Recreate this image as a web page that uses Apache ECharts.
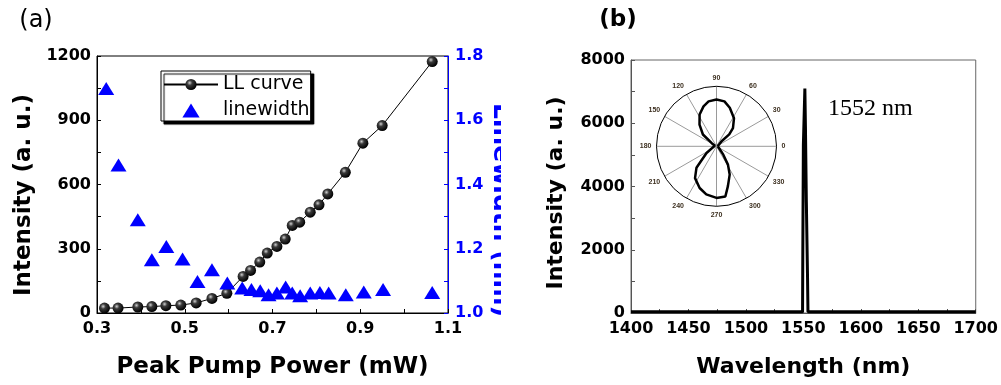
<!DOCTYPE html>
<html>
<head>
<meta charset="utf-8">
<script src="https://cdn.jsdelivr.net/npm/echarts@6/dist/echarts.min.js"></script>
<style>
html,body{margin:0;padding:0;background:#fff;}
#wrap{position:relative;width:1001px;height:385px;overflow:hidden;}
#chartA{position:absolute;left:0;top:0;width:501px;height:385px;}
#chartB{position:absolute;left:501px;top:0;width:500px;height:385px;}
</style>
</head>
<body>
<div id="wrap"><div id="chartA"></div><div id="chartB"></div></div>
<script>
// (a) LL curve: peak pump power (mW) -> intensity (a. u.)
var llPower = [0.317,0.348,0.393,0.425,0.457,0.491,0.526,0.562,0.596,0.633,0.650,0.671,0.688,0.710,0.729,0.745,0.762,0.786,0.806,0.826,0.866,0.906,0.950,1.064];
var llIntensity = [23,23,28,30,34,37,47,68,92,171,199,238,280,311,345,409,424,471,505,556,657,793,875,1174];
// (a) linewidth (nm), right axis
var lwPower = [0.321,0.349,0.393,0.425,0.458,0.495,0.529,0.562,0.597,0.631,0.652,0.672,0.691,0.710,0.730,0.745,0.763,0.786,0.808,0.828,0.867,0.908,0.952,1.064];
var lwWidth = [1.699,1.461,1.290,1.166,1.207,1.168,1.098,1.135,1.093,1.078,1.073,1.069,1.057,1.062,1.081,1.062,1.054,1.062,1.064,1.062,1.057,1.065,1.073,1.064];
// (b) spectrum
var specWl = [1400,1549.3,1549.5,1550.0,1551.3,1551.8,1552.6,1553.6,1554.0,1700];
var specInt = [40,40,1800,5300,7100,5900,3500,1200,40,40];
// (b) inset, polarisation: angle (deg) and normalised intensity
var polAngle = [0,30,45,43,48,58,71,80,90,100,108,118,128,139,146,160,180,200,214,227,236,248,258,270,280,286,295,302,309,325,360];
var polR = [0.02,0.04,0.12,0.29,0.41,0.55,0.68,0.76,0.78,0.76,0.70,0.60,0.46,0.30,0.10,0.03,0.02,0.05,0.20,0.49,0.64,0.75,0.82,0.86,0.85,0.69,0.52,0.36,0.18,0.05,0.02];

var FONT = 'DejaVu Sans';
var tickFont = {fontFamily: FONT, fontWeight: 'bold', fontSize: 16, color: '#000'};

function pairs(xs, ys) {
	return xs.map(function (x, i) { return [x, ys[i]]; });
}

function valAxis(o) {
	var c = o.color || '#000';
	return {
		type: 'value', min: o.min, max: o.max, interval: o.interval,
		position: o.position,
		axisLine: {show: true, onZero: false, lineStyle: {color: c, width: 1}},
		axisTick: {show: true, inside: true, length: 4, lineStyle: {color: c}},
		minorTick: {show: true, splitNumber: 2, length: 4, lineStyle: {color: c}},
		splitLine: {show: false},
		axisLabel: Object.assign({}, tickFont, {margin: o.margin, color: o.labelColor || '#000',
			formatter: o.fmt || function (v) { return String(v); }}),
		name: o.name, nameLocation: 'middle', nameGap: o.nameGap,
		nameTextStyle: {fontFamily: FONT, fontWeight: 'bold', fontSize: o.nameSize, color: '#000'}
	};
}

// ---------- panel (a) ----------
var chartA = echarts.init(document.getElementById('chartA'));
var ball = {
	type: 'radial', x: 0.38, y: 0.35, r: 0.65,
	colorStops: [{offset: 0, color: '#d0d0d0'}, {offset: 0.35, color: '#3a3a3a'}, {offset: 1, color: '#000'}]
};
chartA.setOption({
	animation: false,
	grid: {left: 97, right: 53, top: 56, bottom: 72, show: true, borderColor: '#000', borderWidth: 1},
	xAxis: valAxis({min: 0.3, max: 1.1, interval: 0.2, margin: 8,
		fmt: function (v) { return v.toFixed(1); },
		name: 'Peak Pump Power (mW)', nameGap: 43, nameSize: 23}),
	yAxis: [
		valAxis({min: 0, max: 1200, interval: 300, margin: 6, position: 'left'}),
		valAxis({min: 1.0, max: 1.8, interval: 0.2, margin: 7, position: 'right', color: '#0000ff', labelColor: '#0000ff',
			fmt: function (v) { return v.toFixed(1); }})
	],
	legend: {
		orient: 'vertical', left: 161, top: 71, padding: [4, 1, 1, 2],
		itemGap: 7, itemWidth: 54, itemHeight: 14, symbolKeepAspect: true,
		backgroundColor: '#fff', borderColor: '#000', borderWidth: 1,
		shadowColor: '#000', shadowOffsetX: 3, shadowOffsetY: 3, shadowBlur: 1,
		textStyle: {fontFamily: FONT, fontSize: 19, color: '#000'},
		data: ['LL curve', {name: 'linewidth', icon: 'path://M0,13L8,0L16,13Z'}]
	},
	series: [
		{
			name: 'LL curve', type: 'line', data: pairs(llPower, llIntensity),
			symbol: 'circle', symbolSize: 11,
			lineStyle: {color: '#000', width: 1},
			itemStyle: {color: ball, borderWidth: 0},
			z: 2
		},
		{
			name: 'linewidth', type: 'scatter', yAxisIndex: 1, data: pairs(lwPower, lwWidth),
			symbol: 'triangle', symbolSize: [16, 13],
			itemStyle: {color: '#0000ff', opacity: 1},
			z: 3
		}
	],
	graphic: [
		{type: 'text', x: 36, y: 21, style: {text: '(a)', fontFamily: FONT, fontSize: 24, fill: '#000', align: 'center', verticalAlign: 'middle'}},
		{type: 'text', x: 24, y: 195, rotation: Math.PI / 2,
			style: {text: 'Intensity (a. u.)', fontFamily: FONT, fontWeight: 'bold', fontSize: 23, fill: '#000', align: 'center', verticalAlign: 'middle'}},
		{type: 'text', x: 500, y: 210, rotation: -Math.PI / 2,
			style: {text: 'Linewidth (nm)', fontFamily: FONT, fontWeight: 'bold', fontSize: 25, fill: '#0000ff', align: 'center', verticalAlign: 'middle'}}
	]
});

// ---------- panel (b) ----------
var chartB = echarts.init(document.getElementById('chartB'));
chartB.setOption({
	animation: false,
	grid: {left: 130, right: 24, top: 60, bottom: 72, show: true, borderColor: '#666', borderWidth: 1},
	xAxis: valAxis({min: 1400, max: 1700, interval: 50, margin: 8, color: '#555',
		name: 'Wavelength (nm)', nameGap: 43, nameSize: 22}),
	yAxis: valAxis({min: 0, max: 8000, interval: 2000, margin: 6, color: '#555'}),
	polar: {center: [215.5, 146.3], radius: 60},
	angleAxis: {
		type: 'value', min: 0, max: 360, interval: 30, startAngle: 0, clockwise: false,
		axisLine: {show: true, lineStyle: {color: '#000', width: 1}},
		axisTick: {show: false},
		axisLabel: {fontFamily: 'Liberation Sans', fontWeight: 'bold', fontSize: 7, color: '#3d3020', margin: 5,
			formatter: function (v) { return v === 360 ? '' : String(v); }},
		splitLine: {show: true, lineStyle: {color: '#9a9a9a', width: 1}}
	},
	radiusAxis: {
		type: 'value', min: 0, max: 1,
		axisLine: {show: false}, axisTick: {show: false}, axisLabel: {show: false}, splitLine: {show: false}
	},
	series: [
		{
			type: 'line', data: pairs(specWl, specInt), showSymbol: false, symbol: 'none',
			lineStyle: {color: '#000', width: 3}
		},
		{
			type: 'line', coordinateSystem: 'polar', data: pairs(polR, polAngle),
			showSymbol: false, symbol: 'none',
			lineStyle: {color: '#000', width: 2.5}
		}
	],
	graphic: [
		{type: 'text', x: 117, y: 20, style: {text: '(b)', fontFamily: FONT, fontWeight: 'bold', fontSize: 23, fill: '#000', align: 'center', verticalAlign: 'middle'}},
		{type: 'text', x: 55, y: 193, rotation: Math.PI / 2,
			style: {text: 'Intensity (a. u.)', fontFamily: FONT, fontWeight: 'bold', fontSize: 22, fill: '#000', align: 'center', verticalAlign: 'middle'}},
		{type: 'text', x: 327, y: 109,
			style: {text: '1552 nm', fontFamily: 'Liberation Serif', fontSize: 24, fill: '#000', align: 'left', verticalAlign: 'middle'}}
	]
});
</script>
</body>
</html>
